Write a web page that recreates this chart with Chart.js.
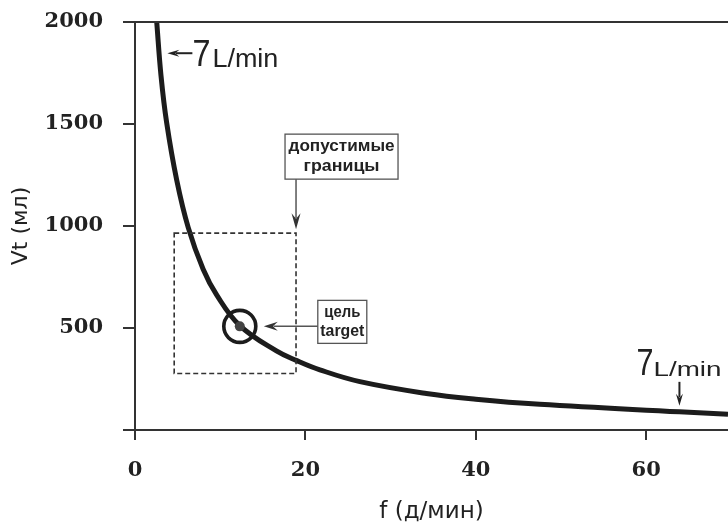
<!DOCTYPE html>
<html>
<head>
<meta charset="utf-8">
<script src="https://cdn.jsdelivr.net/npm/chart.js@4.4.1/dist/chart.umd.min.js"></script>
<style>
  html, body { margin: 0; padding: 0; background: #fff; }
</style>
</head>
<body>
<canvas id="chart" width="728" height="526"></canvas>
<script>
// Breathing rate f (breaths/min) vs tidal volume Vt (ml) along the 7 L/min curve
const freq = [2.55, 3.05, 3.72, 4.9, 6.25, 8.0, 9.6, 12.3, 16.6, 19, 21.7, 26.4, 34.2, 40, 47.5, 63.9, 69.6];
const vt   = [2000, 1738, 1505, 1224, 992, 788, 661, 512, 388, 340, 295, 237, 179, 151, 126, 89, 77];

// axes
const xTicks = [0, 20, 40, 60];
const yTicks = [0, 500, 1000, 1500, 2000];
const xMax = 69.6;
const yMax = 2000;
const xTitle = 'f (д/мин)';
const yTitle = 'Vt (мл)';

// annotations (data units)
const targetPoint = [12.3, 508];
const rangeF = [4.6, 18.9];
const rangeVt = [277, 965];
const rangeLabel = ['допустимые', 'границы'];
const targetLabel = ['цель', 'target'];
const flowLabel = ['7', 'L/min'];
const flowTopVt = 1847;   // left arrow, near the top of the curve
const flowRightF = 63.9;  // down arrow, far right of the curve

const ink = '#222';
const axisColor = '#333';

function drawArrow(ctx, x1, y1, x2, y2, head, half) {
    const a = Math.atan2(y2 - y1, x2 - x1);
    const c = Math.cos(a), s = Math.sin(a);
    ctx.beginPath();
    ctx.moveTo(x1, y1);
    ctx.lineTo(x2 - c * head * 0.7, y2 - s * head * 0.7);
    ctx.stroke();
    ctx.beginPath();
    ctx.moveTo(x2, y2);
    ctx.lineTo(x2 - head * c + half * s, y2 - head * s - half * c);
    ctx.lineTo(x2 - head * 0.65 * c, y2 - head * 0.65 * s);
    ctx.lineTo(x2 - head * c - half * s, y2 - head * s + half * c);
    ctx.closePath();
    ctx.fill();
}

// draw text squeezed/stretched to a given width, centred on cx
function fitText(ctx, txt, cx, cy, width) {
    const w = ctx.measureText(txt).width;
    ctx.save();
    ctx.translate(cx, cy);
    ctx.scale(width / w, 1);
    ctx.textAlign = 'center';
    ctx.fillText(txt, 0, 0);
    ctx.restore();
}

const annotations = {
    id: 'annotations',
    afterDatasetsDraw(chart) {
        const ctx = chart.ctx;
        const xs = chart.scales.x, ys = chart.scales.y;
        const area = chart.chartArea;
        ctx.save();

        // top frame line
        ctx.strokeStyle = axisColor;
        ctx.lineWidth = 2;
        ctx.beginPath();
        ctx.moveTo(area.left, area.top);
        ctx.lineTo(area.right, area.top);
        ctx.stroke();

        // acceptable range box (dashed)
        const bx1 = xs.getPixelForValue(rangeF[0]), bx2 = xs.getPixelForValue(rangeF[1]);
        const by1 = ys.getPixelForValue(rangeVt[1]), by2 = ys.getPixelForValue(rangeVt[0]);
        ctx.setLineDash([5, 3]);
        ctx.lineWidth = 1.6;
        ctx.strokeStyle = '#333';
        ctx.strokeRect(bx1, by1, bx2 - bx1, by2 - by1);
        ctx.setLineDash([]);

        // range label box + arrow down to box corner
        ctx.fillStyle = '#fff';
        ctx.strokeStyle = '#555';
        ctx.lineWidth = 1.3;
        const lx = bx2 - 11, ly = by1 - 99;
        ctx.fillRect(lx, ly, 113, 45);
        ctx.strokeRect(lx, ly, 113, 45);
        ctx.fillStyle = ink;
        ctx.font = 'bold 16px "Liberation Sans", sans-serif';
        ctx.textBaseline = 'middle';
        fitText(ctx, rangeLabel[0], lx + 56.5, ly + 12, 106);
        fitText(ctx, rangeLabel[1], lx + 56.5, ly + 32, 76);
        ctx.fillStyle = '#333';
        ctx.strokeStyle = '#555';
        ctx.lineWidth = 1.5;
        drawArrow(ctx, bx2, ly + 45, bx2, by1 - 4, 16, 4.5);

        // target ring + dot
        const tx = xs.getPixelForValue(targetPoint[0]), ty = ys.getPixelForValue(targetPoint[1]);
        ctx.strokeStyle = '#1c1c1c';
        ctx.lineWidth = 3.6;
        ctx.beginPath();
        ctx.arc(tx, ty, 16, 0, Math.PI * 2);
        ctx.stroke();
        ctx.fillStyle = '#444';
        ctx.beginPath();
        ctx.arc(tx, ty, 5, 0, Math.PI * 2);
        ctx.fill();

        // target label box + arrow
        const gx = tx + 78, gy = ty - 26;
        ctx.fillStyle = '#fff';
        ctx.strokeStyle = '#555';
        ctx.lineWidth = 1.3;
        ctx.fillRect(gx, gy, 49, 43);
        ctx.strokeRect(gx, gy, 49, 43);
        ctx.fillStyle = ink;
        ctx.font = 'bold 16px "Liberation Sans", sans-serif';
        fitText(ctx, targetLabel[0], gx + 24.5, gy + 12, 36);
        fitText(ctx, targetLabel[1], gx + 24.5, gy + 31, 44);
        ctx.fillStyle = '#333';
        ctx.strokeStyle = '#555';
        ctx.lineWidth = 1.5;
        drawArrow(ctx, gx, ty, tx + 24, ty, 14, 4.5);

        // 7 L/min, top-left: arrow pointing left at the curve
        const ay = ys.getPixelForValue(flowTopVt);
        const ax = xs.getPixelForValue(3.8);
        ctx.fillStyle = '#222';
        ctx.strokeStyle = '#222';
        ctx.lineWidth = 2;
        drawArrow(ctx, ax + 25, ay, ax, ay, 12, 3.5);
        ctx.textBaseline = 'alphabetic';
        ctx.textAlign = 'left';
        ctx.font = '37px "Liberation Sans", sans-serif';
        ctx.save();
        ctx.translate(ax + 25, ay + 13);
        ctx.scale(18 / ctx.measureText(flowLabel[0]).width, 1);
        ctx.fillText(flowLabel[0], 0, 0);
        ctx.restore();
        ctx.font = '26px "Liberation Sans", sans-serif';
        fitText(ctx, flowLabel[1], ax + 78, ay + 14, 66);

        // 7 L/min, right: arrow pointing down at the curve
        const rx = xs.getPixelForValue(flowRightF);
        const ry = ys.getPixelForValue(vt[vt.length - 2]);
        drawArrow(ctx, rx, ry - 30, rx, ry - 6, 12, 3.5);
        ctx.font = '36px "Liberation Sans", sans-serif';
        ctx.save();
        ctx.translate(rx - 43, ry - 37);
        ctx.scale(17 / ctx.measureText(flowLabel[0]).width, 1);
        ctx.fillText(flowLabel[0], 0, 0);
        ctx.restore();
        ctx.font = '21px "Liberation Sans", sans-serif';
        fitText(ctx, flowLabel[1], rx + 8, ry - 36, 68);

        ctx.restore();
    }
};

new Chart(document.getElementById('chart'), {
    type: 'line',
    data: {
        datasets: [{
            data: freq.map((f, i) => ({ x: f, y: vt[i] })),
            borderColor: '#1c1c1c',
            borderWidth: 5,
            pointRadius: 0,
            tension: 0.4,
            fill: false
        }]
    },
    options: {
        responsive: false,
        animation: false,
        devicePixelRatio: 1,
        layout: { padding: { top: 22, right: 0, left: 0, bottom: 0 } },
        plugins: { legend: { display: false }, tooltip: { enabled: false } },
        scales: {
            x: {
                type: 'linear',
                min: 0,
                max: xMax,
                afterBuildTicks: s => { s.ticks = xTicks.map(v => ({ value: v })); },
                afterFit: s => { s.height = 96; s.paddingLeft = 0; s.paddingRight = 0; },
                grid: { drawOnChartArea: false, tickLength: 10, color: axisColor, lineWidth: 2 },
                border: { color: axisColor, width: 2 },
                ticks: {
                    padding: 18,
                    color: ink,
                    maxRotation: 0,
                    font: { family: '"DejaVu Serif", serif', size: 21, weight: 'bold' }
                },
                title: {
                    display: true,
                    text: xTitle,
                    color: ink,
                    padding: { top: 0, bottom: 0 },
                    font: { family: '"DejaVu Sans", sans-serif', size: 23 }
                }
            },
            y: {
                type: 'linear',
                min: 0,
                max: yMax,
                afterBuildTicks: s => { s.ticks = yTicks.map(v => ({ value: v })); },
                afterFit: s => { s.width = 135; s.paddingTop = 0; s.paddingBottom = 0; },
                grid: { drawOnChartArea: false, tickLength: 12, color: axisColor, lineWidth: 2 },
                border: { color: axisColor, width: 2 },
                ticks: {
                    padding: 20,
                    color: ink,
                    callback: v => (v === 0 ? '' : v),
                    font: { family: '"DejaVu Serif", serif', size: 21, weight: 'bold' }
                },
                title: {
                    display: true,
                    text: yTitle,
                    color: ink,
                    padding: { top: 8, bottom: 0 },
                    font: { family: '"DejaVu Sans", sans-serif', size: 22 }
                }
            }
        }
    },
    plugins: [annotations]
});
</script>
</body>
</html>
